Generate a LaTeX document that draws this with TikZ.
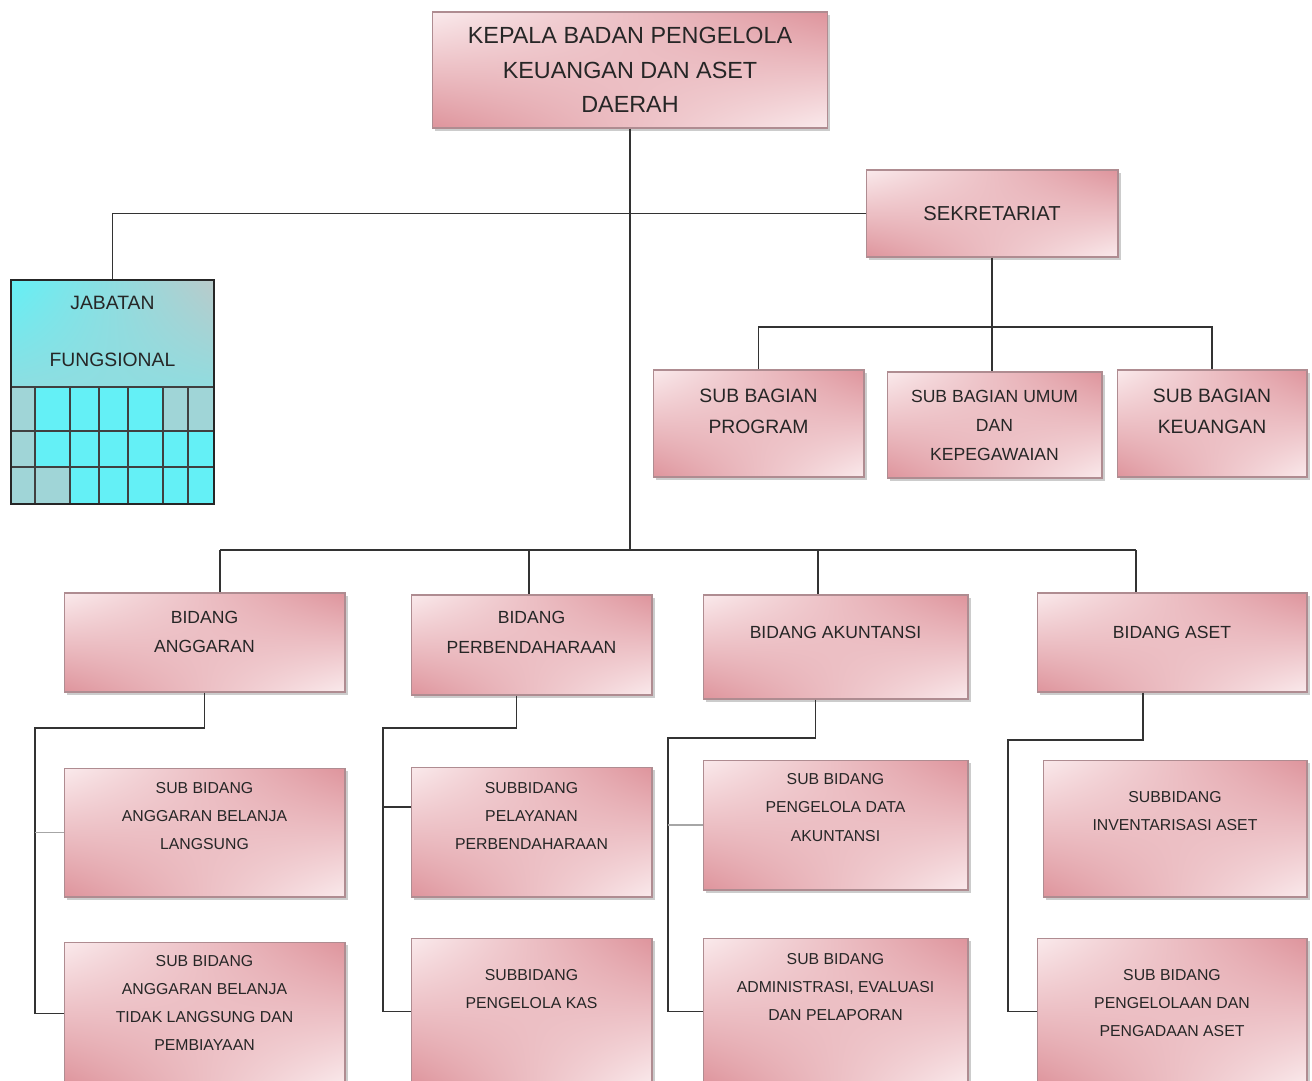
\documentclass[tikz,border=0pt]{standalone}
\usepackage{fontspec}
\setmainfont{Liberation Sans}
\usetikzlibrary{shadows,shadings}
\definecolor{boxdark}{RGB}{222,148,156}
\definecolor{boxlight}{RGB}{250,234,236}
\definecolor{boxedge}{RGB}{175,140,145}
\definecolor{jabcyan}{RGB}{100,240,246}
\definecolor{jabgray}{RGB}{186,202,202}

\begin{document}
\begin{tikzpicture}[x=0.02cm, y=-0.02cm,
    unit/.style={draw=boxedge, line width=0.6pt, inner sep=0pt,
      upper left=boxlight, upper right=boxdark, lower left=boxdark, lower right=boxlight,
      drop shadow={shadow xshift=1.6pt, shadow yshift=-1.6pt, fill=black!40}},
    ktxt/.style={font=\fontsize{13.3}{19.5}\selectfont, align=center, text=black!85},
    stxt/.style={font=\fontsize{11.5}{14}\selectfont, align=center, text=black!85},
    gtxt/.style={font=\fontsize{11}{18}\selectfont, align=center, text=black!85},
    utxt/.style={font=\fontsize{10}{16.5}\selectfont, align=center, text=black!85},
    btxt/.style={font=\fontsize{10}{17}\selectfont, align=center, text=black!85},
    sbtxt/.style={font=\fontsize{9}{16}\selectfont, align=center, text=black!85},
    jtxt/.style={font=\fontsize{11}{32}\selectfont, align=center, text=black!85},
    conn/.style={line width=1.1pt, black!80},
    twig/.style={line width=0.9pt, gray!70},
    gridln/.style={line width=0.6pt, black!75}
  ]
  \useasboundingbox (0,0) rectangle (1312,1080);

  % top level
  \node[unit, minimum width=7.9cm, minimum height=2.32cm, ktxt] (kepala) at (630,70)
    {KEPALA BADAN PENGELOLA\\KEUANGAN DAN ASET\\DAERAH};
  \node[unit, minimum width=5.04cm, minimum height=1.74cm, stxt] (sek) at (992,213.5) {SEKRETARIAT};

  % jabatan fungsional
  \node[draw=black!85, line width=1pt, minimum width=4.06cm, minimum height=4.48cm,
    upper left=jabcyan, upper right=jabgray, lower left=jabgray, lower right=jabcyan,
    label={[jtxt, yshift=34.5pt]center:{JABATAN\\FUNGSIONAL}}] (jab) at (112.5,392) {};
  \fill[jabcyan] (12,387) rectangle (213,503);
  \fill[jabgray!70!jabcyan] (12,387) rectangle (35,503);
  \fill[jabgray!70!jabcyan] (163,387) rectangle (213,431);
  \fill[jabgray!70!jabcyan] (12,467) rectangle (70,503);
  \foreach \gx in {35,99,128,188}
    \draw[gridln] (\gx,387) -- (\gx,503);
  \foreach \gx in {70,163}
    \draw[gridln, line width=1pt] (\gx,387) -- (\gx,503);
  \foreach \gy in {387,431,467}
    \draw[gridln] (12,\gy) -- (213,\gy);

  % sub bagian
  \node[unit, minimum width=4.22cm, minimum height=2.14cm,
    label={[gtxt, yshift=7pt]center:{SUB BAGIAN\\PROGRAM}}] (sbProg) at (758.5,423.5) {};
  \node[unit, minimum width=4.3cm, minimum height=2.12cm, utxt] (sbUmum) at (994.5,425)
    {SUB BAGIAN UMUM\\DAN\\KEPEGAWAIAN};
  \node[unit, minimum width=3.8cm, minimum height=2.14cm,
    label={[gtxt, yshift=7pt]center:{SUB BAGIAN\\KEUANGAN}}] (sbKeu) at (1212,423.5) {};

  % bidang
  \node[unit, minimum width=5.62cm, minimum height=1.98cm,
    label={[btxt, yshift=6pt]center:{BIDANG\\ANGGARAN}}] (bidA) at (204.5,642.5) {};
  \node[unit, minimum width=4.82cm, minimum height=2.0cm,
    label={[btxt, yshift=7pt]center:{BIDANG\\PERBENDAHARAAN}}] (bidP) at (531.5,645) {};
  \node[unit, minimum width=5.3cm, minimum height=2.08cm,
    label={[btxt, yshift=8.5pt]center:{BIDANG AKUNTANSI}}] (bidK) at (835.5,647) {};
  \node[unit, minimum width=5.4cm, minimum height=1.98cm,
    label={[btxt, yshift=6pt]center:{BIDANG ASET}}] (bidS) at (1172,642.5) {};

  % sub bidang
  \node[unit, minimum width=5.62cm, minimum height=2.58cm,
    label={[sbtxt, yshift=9.5pt]center:{SUB BIDANG\\ANGGARAN BELANJA\\LANGSUNG}}] (sbA1) at (204.5,832.5) {};
  \node[unit, minimum width=5.62cm, minimum height=2.86cm,
    label={[sbtxt, yshift=6pt]center:{SUB BIDANG\\ANGGARAN BELANJA\\TIDAK LANGSUNG DAN\\PEMBIAYAAN}}] (sbA2) at (204.5,1013.5) {};
  \node[unit, minimum width=4.82cm, minimum height=2.6cm,
    label={[sbtxt, yshift=9pt]center:{SUBBIDANG\\PELAYANAN\\PERBENDAHARAAN}}] (sbP1) at (531.5,832) {};
  \node[unit, minimum width=4.82cm, minimum height=2.94cm,
    label={[sbtxt, yshift=13pt]center:{SUBBIDANG\\PENGELOLA KAS}}] (sbP2) at (531.5,1011.5) {};
  \node[unit, minimum width=5.3cm, minimum height=2.6cm,
    label={[sbtxt, yshift=10pt]center:{SUB BIDANG\\PENGELOLA DATA\\AKUNTANSI}}] (sbK1) at (835.5,825) {};
  \node[unit, minimum width=5.3cm, minimum height=2.94cm,
    label={[sbtxt, yshift=14pt]center:{SUB BIDANG\\ADMINISTRASI, EVALUASI\\DAN PELAPORAN}}] (sbK2) at (835.5,1011.5) {};
  \node[unit, minimum width=5.28cm, minimum height=2.74cm,
    label={[sbtxt, yshift=10pt]center:{SUBBIDANG\\INVENTARISASI ASET}}] (sbS1) at (1175,828.5) {};
  \node[unit, minimum width=5.4cm, minimum height=2.94cm,
    label={[sbtxt, yshift=5pt]center:{SUB BIDANG\\PENGELOLAAN DAN\\PENGADAAN ASET}}] (sbS2) at (1172,1011.5) {};

  % connectors
  \draw[conn] (jab.north) |- (sek.west);
  \coordinate (bagbus) at (992,327);
  \draw[conn] (sek.south) -- (sek.south |- sbUmum.north);
  \draw[conn] (sbProg.north) |- (bagbus) -| (sbKeu.north);

  \coordinate (dA) at (220,550);
  \coordinate (dP) at (529,550);
  \coordinate (dK) at (818,550);
  \coordinate (dS) at (1136,550);
  \draw[conn] (kepala.south) -- (kepala.south |- dA);
  \draw[conn] (dA) -- (dS);
  \foreach \d/\b in {dA/bidA, dP/bidP, dK/bidK, dS/bidS}
    \draw[conn] (\d) -- (\d |- \b.north);

  \coordinate (elbA) at (35,728);
  \draw[conn] (bidA.south) |- (elbA) |- (sbA2.west);
  \draw[twig] (elbA |- sbA1.west) -- (sbA1.west);

  \coordinate (elbP) at (383,728);
  \coordinate (pj) at ([yshift=0.5cm]sbP1.west);
  \draw[conn] ([xshift=-0.3cm]bidP.south) |- (elbP) |- (sbP2.west);
  \draw[conn] (elbP |- pj) -- (pj);

  \coordinate (elbK) at (668,738);
  \draw[conn] ([xshift=-0.4cm]bidK.south) |- (elbK) |- (sbK2.west);
  \draw[twig] (elbK |- sbK1.west) -- (sbK1.west);

  \coordinate (elbS) at (1008,740);
  \draw[conn] ([xshift=-0.58cm]bidS.south) |- (elbS) |- (sbS2.west);
\end{tikzpicture}
\end{document}
